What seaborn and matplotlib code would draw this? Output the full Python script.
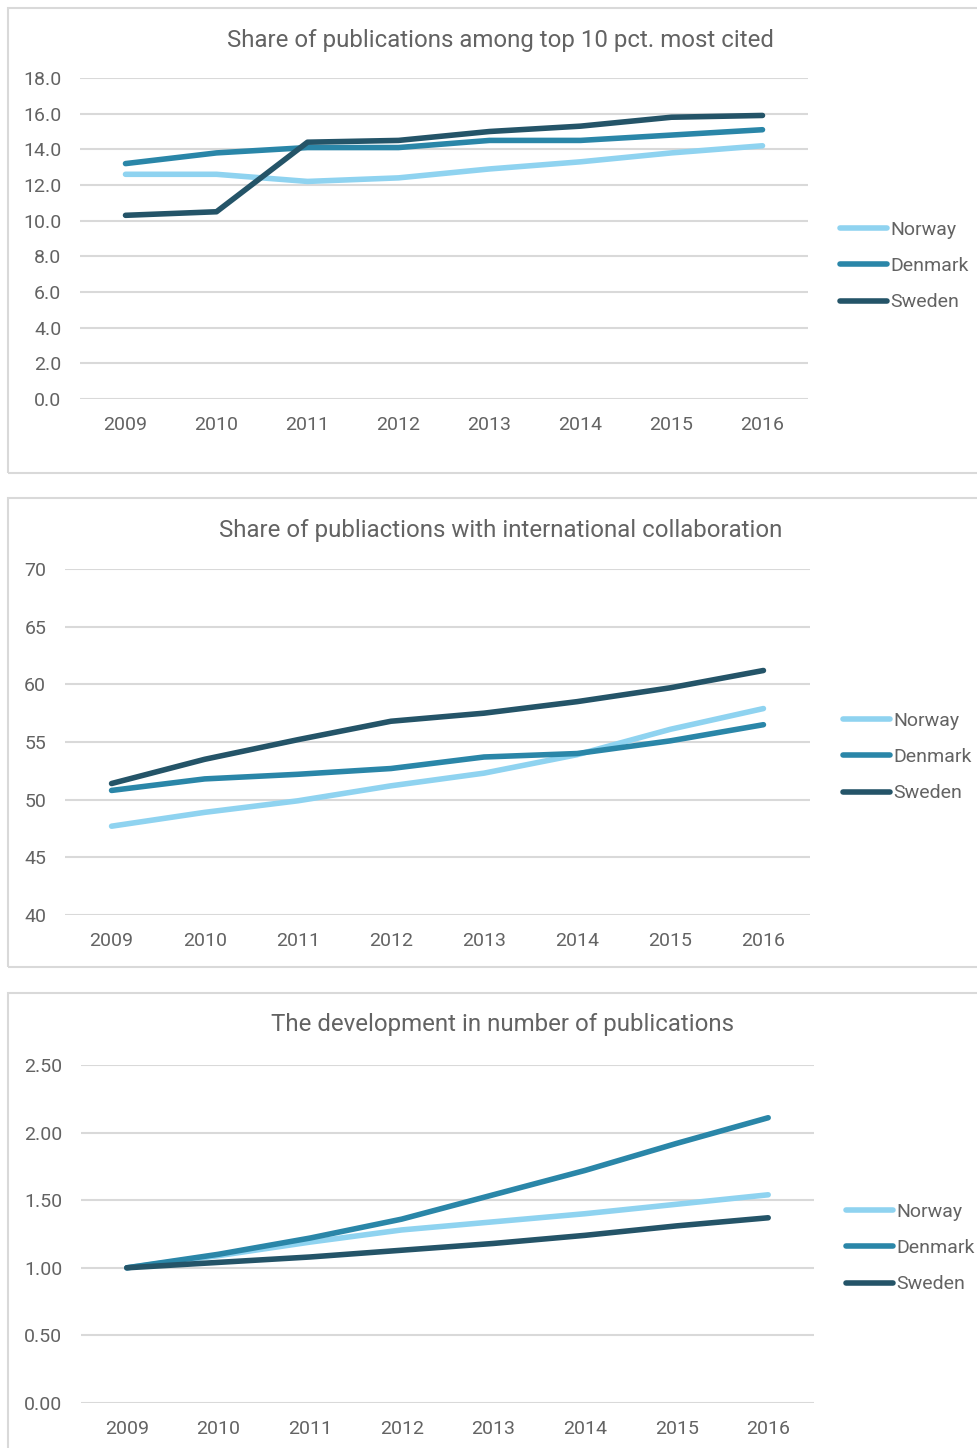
import matplotlib.pyplot as plt
import matplotlib.patches as mpatches
import numpy as np
import pandas as pd
import seaborn as sns

sns.set_theme(style="white")
plt.rcParams['font.family'] = ['Roboto', 'DejaVu Sans']

years = [2009, 2010, 2011, 2012, 2013, 2014, 2015, 2016]
countries = ["Norway", "Denmark", "Sweden"]
colors = ["#8fd3f0", "#2a86a8", "#245468"]

# top 10 pct most cited
top10_norway = [12.6, 12.6, 12.2, 12.4, 12.9, 13.3, 13.8, 14.2]
top10_denmark = [13.2, 13.8, 14.1, 14.1, 14.5, 14.5, 14.8, 15.1]
top10_sweden = [10.3, 10.5, 14.4, 14.5, 15.0, 15.3, 15.8, 15.9]

# international collaboration
intl_norway = [47.7, 48.9, 49.9, 51.2, 52.3, 53.9, 56.1, 57.9]
intl_denmark = [50.8, 51.8, 52.2, 52.7, 53.7, 54.0, 55.1, 56.5]
intl_sweden = [51.4, 53.5, 55.2, 56.8, 57.5, 58.5, 59.7, 61.2]

# number of publications (index, 2009 = 1)
pubs_norway = [1.00, 1.09, 1.19, 1.28, 1.34, 1.40, 1.47, 1.54]
pubs_denmark = [1.00, 1.10, 1.22, 1.36, 1.54, 1.72, 1.92, 2.11]
pubs_sweden = [1.00, 1.04, 1.08, 1.13, 1.18, 1.24, 1.31, 1.37]

W, H = 978, 1448
fig = plt.figure(figsize=(W / 100, H / 100), dpi=100)
text_col = "#636363"
grid_col = "#d9d9d9"


def to_df(vals):
    rows = []
    for c, v in zip(countries, vals):
        for y, val in zip(years, v):
            rows.append({"year": y, "value": val, "country": c})
    return pd.DataFrame(rows)


def panel(box, axbox, title, title_xy, vals, yticks, fmt, leg_xy):
    # border box (pixel coords, y from top)
    bx0, by0, bx1, by1 = box
    fig.patches.append(mpatches.Rectangle((bx0 / W, 1 - by1 / H), (bx1 - bx0) / W,
                                          (by1 - by0) / H, transform=fig.transFigure,
                                          fill=False, edgecolor=grid_col, lw=1.5))
    x0, ytop, x1, ybot = axbox
    ax = fig.add_axes([x0 / W, 1 - ybot / H, (x1 - x0) / W, (ybot - ytop) / H])
    df = to_df(vals)
    sns.lineplot(data=df, x="year", y="value", hue="country", palette=colors,
                 linewidth=4, ax=ax, solid_capstyle="round")
    ax.set_xlim(2008.5, 2016.5)
    ax.set_ylim(yticks[0], yticks[-1])
    ax.set_xticks(years)
    ax.set_yticks(yticks)
    ax.set_yticklabels([fmt.format(t) for t in yticks])
    ax.grid(axis="y", color=grid_col, lw=1.5)
    ax.set_axisbelow(True)
    for s in ax.spines.values():
        s.set_visible(False)
    ax.tick_params(axis="both", length=0, labelsize=14, labelcolor=text_col)
    ax.tick_params(axis="y", pad=13.5)
    ax.tick_params(axis="x", pad=12.5)
    ax.set_xlabel("")
    ax.set_ylabel("")
    for ln in ax.lines:
        ln.set_clip_on(False)
    fig.text(title_xy[0] / W, 1 - title_xy[1] / H, title, ha="center", va="center",
             fontsize=17.3, color=text_col)
    leg = ax.legend(loc="center left", bbox_to_anchor=(leg_xy[0] / W, 1 - leg_xy[1] / H),
                    bbox_transform=fig.transFigure, frameon=False, fontsize=14,
                    handlelength=2.4, handletextpad=0.2, labelspacing=0.95,
                    borderaxespad=0, borderpad=0)
    for t in leg.get_texts():
        t.set_color(text_col)
    for h in leg.get_lines():
        h.set_linewidth(4)
    return ax


panel((8, 8, 990, 473), (80, 78, 808, 399),
      "Share of publications among top 10 pct. most cited", (500, 40),
      [top10_norway, top10_denmark, top10_sweden],
      [0, 2, 4, 6, 8, 10, 12, 14, 16, 18], "{:.1f}", (840, 266))

panel((8, 498, 990, 967), (65, 569, 810, 915),
      "Share of publiactions with international collaboration", (501, 530),
      [intl_norway, intl_denmark, intl_sweden],
      [40, 45, 50, 55, 60, 65, 70], "{:d}", (843, 757))

panel((8, 993, 990, 1460), (81, 1065, 814, 1403),
      "The development in number of publications", (503, 1025),
      [pubs_norway, pubs_denmark, pubs_sweden],
      [0.0, 0.5, 1.0, 1.5, 2.0, 2.5], "{:.2f}", (846, 1248))

fig.savefig("out.png", dpi=100)
